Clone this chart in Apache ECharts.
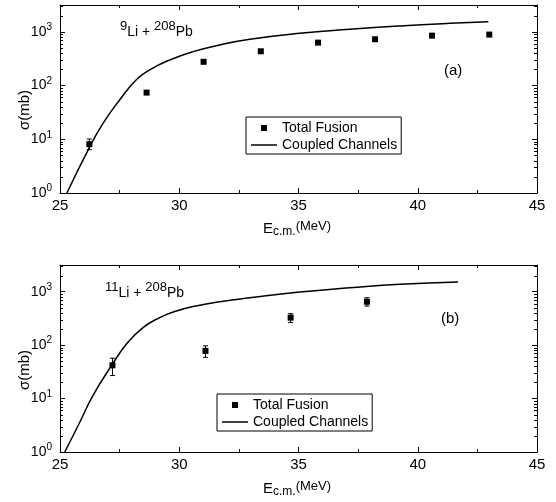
<!DOCTYPE html>
<html><head><meta charset="utf-8">
<script src="https://cdn.jsdelivr.net/npm/echarts@6/dist/echarts.min.js"></script>
<style>html,body{margin:0;padding:0;background:#fff}#c{width:556px;height:502px}</style>
</head><body><div id="c"></div>
<script>
const FONT = '"Liberation Sans", Arial, Helvetica, sans-serif';
const X_MIN = 25, X_MAX = 45, X_INTERVAL = 5;
const Y_MIN = 1, Y_MAX = 3162.28;
const xTickLabels = ['25', '30', '35', '40', '45'];
const yMinorTicks = [2,3,4,5,6,7,8,9,20,30,40,50,60,70,80,90,200,300,400,500,600,700,800,900,2000,3000];

// Panel (a): 9Li + 208Pb
const aFusionE     = [26.23, 28.63, 31.02, 33.42, 35.82, 38.21, 40.60, 43.00];
const aFusionSigma = [8.1,   74,    277,   435,   630,   728,   850,   890];
const aErrE    = [26.23];
const aErrLow  = [6.4];
const aErrHigh = [10.1];
const aCCE     = [25.29, 26.25, 26.81, 27.50, 28.20, 28.76, 29.60, 30.58, 31.70, 32.96, 35.06, 37.15, 39.25, 41.35, 42.96];
const aCCSigma = [1.0,   7.3,   20,    54,    128,   196,   300,   429,   571,   728,   942,   1117,  1288,  1445,  1549];

// Panel (b): 11Li + 208Pb
const bFusionE     = [27.20, 31.10, 34.67, 37.87];
const bFusionSigma = [42,    78,    327,   649];
const bErrLow      = [27,    59,    264,   539];
const bErrHigh     = [57,    97,    388,   770];
const bCCE     = [25.20, 25.83, 26.38, 27.20, 27.78, 28.48, 29.18, 29.88, 30.86, 31.70, 32.95, 35.05, 37.15, 39.25, 41.69];
const bCCSigma = [1.0,   3.6,   11.4,  44,    104,   213,   327,   435,   560,   650,   770,   984,   1183,  1384,  1528];

const seriesNames = ['Total Fusion', 'Coupled Channels'];

const zip = (a, b) => a.map((v, i) => [v, b[i]]);
const zip3 = (a, b, c) => a.map((v, i) => [v, b[i], c[i]]);

function errRender(params, api) {
  const x = api.value(0), lo = api.value(1), hi = api.value(2);
  const pL = api.coord([x, lo]), pH = api.coord([x, hi]);
  const cap = 2.5, st = {stroke: '#000', lineWidth: 1};
  return {type: 'group', children: [
    {type: 'line', shape: {x1: pL[0], y1: pL[1], x2: pH[0], y2: pH[1]}, style: st},
    {type: 'line', shape: {x1: pL[0]-cap, y1: pL[1], x2: pL[0]+cap, y2: pL[1]}, style: st},
    {type: 'line', shape: {x1: pH[0]-cap, y1: pH[1], x2: pH[0]+cap, y2: pH[1]}, style: st}
  ]};
}
function minorRender(params, api) {
  const v = api.value(1);
  const L = api.coord([X_MIN, v]), R = api.coord([X_MAX, v]);
  const y = Math.round(L[1]) + 0.5;
  const st = {stroke: '#000', lineWidth: 1};
  return {type: 'group', children: [
    {type: 'line', shape: {x1: L[0], y1: y, x2: L[0]+3, y2: y}, style: st},
    {type: 'line', shape: {x1: R[0]-3, y1: y, x2: R[0], y2: y}, style: st}
  ]};
}

function xAxisFor(g, pos) {
  return {
    gridIndex: g, type: 'value', min: X_MIN, max: X_MAX, interval: X_INTERVAL, position: pos,
    axisLine: {show: true, onZero: false, lineStyle: {color: '#000', width: 1}},
    axisTick: {show: true, inside: true, length: 5, lineStyle: {color: '#000', width: 1}},
    minorTick: {show: true, splitNumber: 2, length: 3, lineStyle: {color: '#000', width: 1}},
    splitLine: {show: false}, minorSplitLine: {show: false},
    axisLabel: {show: pos === 'bottom', color: '#000', fontSize: 15, fontFamily: FONT, margin: 5,
      formatter: v => xTickLabels[Math.round((v - X_MIN) / X_INTERVAL)] || ''}
  };
}
function yAxisFor(g, pos) {
  return {
    gridIndex: g, type: 'log', logBase: 10, min: Y_MIN, max: Y_MAX, position: pos,
    axisLine: {show: true, onZero: false, lineStyle: {color: '#000', width: 1}},
    axisTick: {show: true, inside: true, length: 5, lineStyle: {color: '#000', width: 1}},
    minorTick: {show: false}, splitLine: {show: false},
    axisLabel: {show: pos === 'left', margin: 8, fontFamily: FONT, color: '#000',
      formatter: v => {
        const e = Math.log10(v), r = Math.round(e);
        if (Math.abs(e - r) > 1e-6) return '';
        return '{b|10}{s|' + r + '}';
      },
      rich: {
        b: {fontSize: 14, fontFamily: FONT, color: '#000'},
        s: {fontSize: 10, fontFamily: FONT, color: '#000', padding: [0, 0, 9, 0]}
      }
    }
  };
}

function panelSeries(g, fE, fS, errData, ccE, ccS) {
  return [
    {name: seriesNames[1], type: 'line', xAxisIndex: 2*g, yAxisIndex: 2*g,
     data: zip(ccE, ccS), symbol: 'none', showSymbol: false, smooth: 0.5,
     lineStyle: {color: '#000', width: 1.5}, itemStyle: {color: '#000'}, z: 3},
    {name: 'err' + g, type: 'custom', xAxisIndex: 2*g, yAxisIndex: 2*g,
     data: errData, encode: {x: 0, y: [1, 2]}, renderItem: errRender, silent: true, z: 4},
    {name: seriesNames[0], type: 'scatter', xAxisIndex: 2*g, yAxisIndex: 2*g,
     data: zip(fE, fS), symbol: 'rect', symbolSize: 6, itemStyle: {color: '#000', opacity: 1}, z: 5},
    {name: 'minor' + g, type: 'custom', xAxisIndex: 2*g, yAxisIndex: 2*g,
     data: yMinorTicks.map(v => [X_MIN, v]), encode: {x: 0, y: 1}, renderItem: minorRender, silent: true, z: 2}
  ];
}

const legendItems = [
  {name: seriesNames[0], icon: 'path://M0,0M26,6M10,0h6v6h-6z', itemStyle: {color: '#000', borderWidth: 0}},
  {name: seriesNames[1], icon: 'path://M0,0M26,6M0,2.25h26v1.5h-26z', itemStyle: {color: '#000', borderWidth: 0}, lineStyle: {width: 0}}
];
function legendFor(left, top) {
  return {
    data: legendItems, orient: 'vertical', left: left, top: top,
    itemWidth: 26, itemHeight: 6, itemGap: 3, padding: [4, 4, 2, 5],
    borderColor: '#000', borderWidth: 1, selectedMode: false,
    textStyle: {fontSize: 14, fontFamily: FONT, color: '#000'}
  };
}

const richLabel = {
  s: {fontSize: 13, fontFamily: FONT, color: '#000', padding: [0, 0, 11, 0]},
  n: {fontSize: 14, fontFamily: FONT, color: '#000'}
};
const richX = {
  E: {fontSize: 15, fontFamily: FONT, color: '#000'},
  c: {fontSize: 12, fontFamily: FONT, color: '#000', padding: [5, 0, 0, 0]},
  u: {fontSize: 13, fontFamily: FONT, color: '#000', padding: [0, 0, 6, 0]}
};
function richText(x, y, text, rich, align) {
  return {type: 'text', x: x, y: y, silent: true,
    style: {text: text, rich: rich, fill: '#000', align: align || 'left', verticalAlign: 'middle'}};
}
function plainText(x, y, text, size, rotation) {
  return {type: 'text', x: x, y: y, rotation: rotation || 0, silent: true,
    style: {text: text, fill: '#000', font: size + 'px ' + FONT, align: rotation ? 'center' : 'left', verticalAlign: 'middle'}};
}

const option = {
  backgroundColor: '#fff',
  animation: false,
  grid: [
    {left: 60, right: 19, top: 5, height: 188},
    {left: 60, right: 19, top: 265, height: 187}
  ],
  xAxis: [xAxisFor(0, 'bottom'), xAxisFor(0, 'top'), xAxisFor(1, 'bottom'), xAxisFor(1, 'top')],
  yAxis: [yAxisFor(0, 'left'), yAxisFor(0, 'right'), yAxisFor(1, 'left'), yAxisFor(1, 'right')],
  legend: [legendFor(246, 117), legendFor(217, 394)],
  series: [].concat(
    panelSeries(0, aFusionE, aFusionSigma, zip3(aErrE, aErrLow, aErrHigh), aCCE, aCCSigma),
    panelSeries(1, bFusionE, bFusionSigma, zip3(bFusionE, bErrLow, bErrHigh), bCCE, bCCSigma)
  ),
  graphic: [
    richText(120, 32, '{s|9}{n|Li + }{s|208}{n|Pb}', richLabel),
    richText(105, 293, '{s|11}{n|Li + }{s|208}{n|Pb}', richLabel),
    plainText(444, 71, '(a)', 15),
    plainText(441, 319, '(b)', 15),
    richText(297, 229, '{E|E}{c|c.m.}{u|(MeV)}', richX, 'center'),
    richText(297, 489, '{E|E}{c|c.m.}{u|(MeV)}', richX, 'center'),
    plainText(25, 110, 'σ(mb)', 15, Math.PI / 2),
    plainText(25, 370, 'σ(mb)', 15, Math.PI / 2)
  ]
};

const chart = echarts.init(document.getElementById('c'), null, {renderer: 'canvas'});
chart.setOption(option);
</script>
</body></html>
